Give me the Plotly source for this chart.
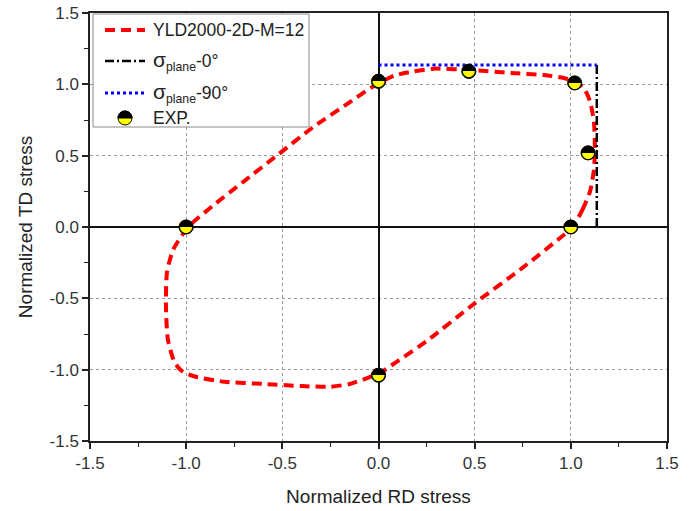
import plotly.graph_objects as go

# Yield locus (YLD2000-2D, M=12), normalized stresses
locus_rd = [1.01, 1.06, 1.10, 1.12, 1.125, 1.12, 1.10, 1.07, 1.036, 0.964, 0.86, 0.69, 0.48,
            0.29, 0.18, 0.08, -0.04, -0.16, -0.34, -0.52, -0.70, -0.86, -0.99, -1.068,
            -1.10, -1.105, -1.095, -1.06, -1.016, -0.95, -0.80, -0.60, -0.40, -0.25,
            -0.15, -0.08, 0.01, 0.10, 0.25, 0.50, 0.75, 0.95, 1.01]
locus_td = [0.0, 0.12, 0.25, 0.40, 0.54, 0.74, 0.88, 0.97, 1.01, 1.044, 1.065, 1.08, 1.10,
            1.11, 1.09, 1.06, 0.975, 0.865, 0.70, 0.51, 0.32, 0.15, 0.0, -0.16,
            -0.32, -0.56, -0.79, -0.95, -1.016, -1.05, -1.085, -1.10, -1.115, -1.12,
            -1.10, -1.07, -1.02, -0.94, -0.80, -0.535, -0.285, -0.07, 0.0]

# Plane-strain limits
plane_0_rd = [1.135, 1.135]
plane_0_td = [0.0, 1.135]
plane_90_rd = [0.0, 1.135]
plane_90_td = [1.135, 1.135]

# Experimental points
exp_rd = [-1.0, 0.0, 0.47, 1.02, 1.09, 1.0, 0.0]
exp_td = [0.0, 1.02, 1.09, 1.01, 0.52, 0.0, -1.04]

# Axis ticks
tick_values = [-1.5, -1.0, -0.5, 0.0, 0.5, 1.0, 1.5]
tick_labels = ["-1.5", "-1.0", "-0.5", "0.0", "0.5", "1.0", "1.5"]

# Legend entries
SIGMA = "<span style='font-size:21px'>σ</span>"
legend_names = ["YLD2000-2D-M=12", SIGMA + "<sub>plane</sub>-0°",
                SIGMA + "<sub>plane</sub>-90°", "EXP."]

FONT = "Liberation Sans, Arial, sans-serif"
HALF_DISC = "◓"

W, H = 694, 511
M_L, M_R, M_T, M_B = 90, 27, 13, 70
PLOT_W = W - M_L - M_R
PLOT_H = H - M_T - M_B


def px(xpix):
    """Horizontal pixel of the page -> paper coordinate."""
    return (xpix - M_L) / PLOT_W


def py(ypix):
    """Vertical pixel of the page -> paper coordinate."""
    return (H - M_B - ypix) / PLOT_H


line_styles = [
    dict(color="#ff0000", width=4, dash="10px,6px"),
    dict(color="#000000", width=2.5, dash="9px,3px,2px,3px"),
    dict(color="#0000ff", width=3, dash="3px,3px"),
]

fig = go.Figure()

fig.add_trace(go.Scatter(
    x=locus_rd, y=locus_td, mode="lines", name="YLD2000-2D-M=12",
    line=dict(**line_styles[0], shape="spline", smoothing=0.6),
))
fig.add_trace(go.Scatter(
    x=plane_0_rd, y=plane_0_td, mode="lines", name="plane 0", line=line_styles[1],
))
fig.add_trace(go.Scatter(
    x=plane_90_rd, y=plane_90_td, mode="lines", name="plane 90", line=line_styles[2],
))
fig.add_trace(go.Scatter(
    x=exp_rd, y=exp_td, mode="markers", name="EXP.",
    marker=dict(symbol="circle", size=14, color="#ffff00",
                line=dict(color="#000000", width=1)),
))
# upper half of each marker in black
fig.add_trace(go.Scatter(
    x=exp_rd, y=exp_td, mode="text", text=[HALF_DISC] * len(exp_rd),
    textposition="middle center", showlegend=False,
    textfont=dict(family="DejaVu Sans", size=19, color="#000000"),
))

axis_common = dict(
    range=[-1.5, 1.5], tickmode="array", tickvals=tick_values, ticktext=tick_labels,
    automargin=False,
    showline=True, linecolor="#222222", linewidth=1.5, mirror=True,
    ticks="outside", ticklen=6, tickwidth=1.5, tickcolor="#222222",
    minor=dict(dtick=0.25, tick0=0, ticks="outside", ticklen=4, tickwidth=1.2,
               tickcolor="#222222", showgrid=False),
    showgrid=True, gridcolor="#9a9a9a", griddash="dot", gridwidth=1,
    zeroline=True, zerolinecolor="#111111", zerolinewidth=1.5,
    tickfont=dict(family=FONT, size=17, color="#333333"),
)

fig.update_xaxes(**axis_common,
                 title=dict(text="Normalized RD stress",
                            font=dict(family=FONT, size=19, color="#222222"), standoff=18))
fig.update_yaxes(**axis_common,
                 title=dict(text="Normalized TD stress",
                            font=dict(family=FONT, size=19, color="#222222"), standoff=12))

# Legend box drawn in the upper-left corner of the plot
shapes = [dict(type="rect", xref="paper", yref="paper", layer="above",
               x0=px(93), x1=px(309), y0=py(127), y1=py(14),
               fillcolor="#ffffff", line=dict(color="#8a8a8a", width=1))]
annotations = []
row_y = [30, 61, 93, 118]
for i, name in enumerate(legend_names):
    if i < 3:
        shapes.append(dict(type="line", xref="paper", yref="paper", layer="above",
                           x0=px(105), x1=px(145), y0=py(row_y[i]), y1=py(row_y[i]),
                           line=line_styles[i]))
    annotations.append(dict(xref="paper", yref="paper", x=px(151), y=py(row_y[i]),
                            xanchor="left", yanchor="middle", showarrow=False, text=name,
                            font=dict(family=FONT, size=17.5, color="#222222")))

# EXP. symbol: yellow disc with black upper half
shapes.append(dict(type="circle", xref="paper", yref="paper", layer="above",
                   xsizemode="pixel", ysizemode="pixel",
                   xanchor=px(125), yanchor=py(row_y[3]),
                   x0=-7, x1=7, y0=-7, y1=7,
                   fillcolor="#ffff00", line=dict(color="#000000", width=1)))
shapes.append(dict(type="path", xref="paper", yref="paper", layer="above",
                   xsizemode="pixel", ysizemode="pixel",
                   xanchor=px(125), yanchor=py(row_y[3]),
                   path="M-7,0 L-6.76,1.81 L-6.06,3.5 L-4.95,4.95 L-3.5,6.06 L-1.81,6.76 "
                        "L0,7 L1.81,6.76 L3.5,6.06 L4.95,4.95 L6.06,3.5 L6.76,1.81 L7,0 Z",
                   fillcolor="#000000", line=dict(color="#000000", width=1)))

fig.update_layout(
    width=W, height=H,
    margin=dict(l=M_L, r=M_R, t=M_T, b=M_B),
    plot_bgcolor="#ffffff", paper_bgcolor="#ffffff",
    showlegend=False,
    shapes=shapes,
    annotations=annotations,
)

fig.write_html("out.html")
